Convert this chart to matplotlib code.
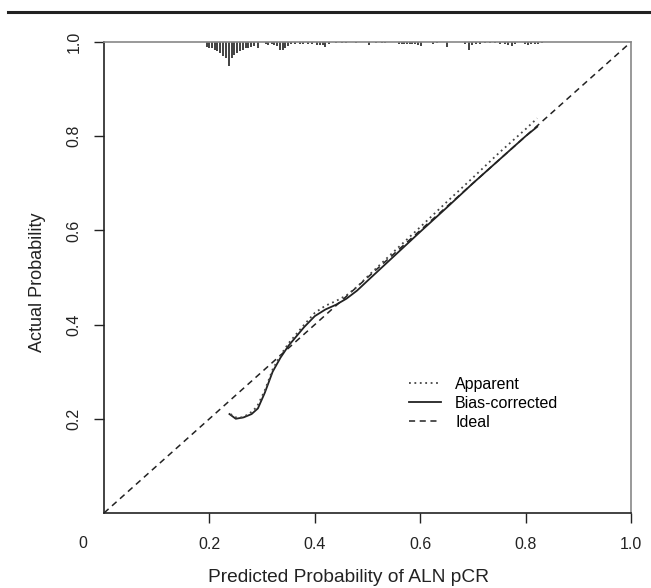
import matplotlib
matplotlib.use("Agg")
import matplotlib.pyplot as plt
from matplotlib.lines import Line2D
import numpy as np

plt.rcParams['font.family'] = ['Liberation Sans', 'DejaVu Sans']

# Calibration curves (predicted, actual)
apparent_x = [0.240, 0.250, 0.262, 0.275, 0.290, 0.305, 0.320, 0.335, 0.350, 0.365, 0.380, 0.400,
              0.420, 0.440, 0.460, 0.480, 0.500, 0.550, 0.600, 0.650, 0.700, 0.750, 0.800, 0.822]
apparent_y = [0.210, 0.203, 0.203, 0.210, 0.225, 0.260, 0.305, 0.335, 0.360, 0.380, 0.400, 0.425,
              0.440, 0.450, 0.462, 0.480, 0.502, 0.555, 0.607, 0.660, 0.712, 0.765, 0.815, 0.838]
bias_x = [0.238, 0.250, 0.265, 0.280, 0.292, 0.305, 0.320, 0.335, 0.350, 0.365, 0.380, 0.400,
          0.420, 0.440, 0.460, 0.480, 0.500, 0.550, 0.600, 0.650, 0.700, 0.750, 0.800, 0.822]
bias_y = [0.210, 0.200, 0.203, 0.210, 0.222, 0.255, 0.300, 0.330, 0.355, 0.375, 0.395, 0.418,
          0.432, 0.442, 0.455, 0.472, 0.493, 0.545, 0.597, 0.648, 0.700, 0.750, 0.800, 0.820]

# Distribution of predicted probabilities (rug at top): positions and relative counts
rug_x = [0.195, 0.200, 0.205, 0.210, 0.215, 0.221, 0.226, 0.232, 0.237, 0.242, 0.247, 0.253,
         0.258, 0.264, 0.269, 0.274, 0.279, 0.285, 0.293, 0.307, 0.312, 0.318, 0.323, 0.328,
         0.334, 0.339, 0.344, 0.349, 0.355, 0.362, 0.371, 0.378, 0.388, 0.394, 0.405, 0.410,
         0.415, 0.420, 0.426, 0.441, 0.451, 0.460, 0.479, 0.503, 0.517, 0.527, 0.533, 0.559,
         0.565, 0.570, 0.575, 0.580, 0.585, 0.590, 0.596, 0.602, 0.624, 0.631, 0.650, 0.685,
         0.693, 0.699, 0.706, 0.713, 0.723, 0.732, 0.742, 0.751, 0.761, 0.767, 0.774, 0.779,
         0.799, 0.805, 0.811, 0.817, 0.823, 0.831]
rug_n = [15, 18, 20, 25, 28, 35, 45, 50, 75, 50, 40, 35,
         30, 25, 20, 18, 15, 12, 20, 8, 10, 8, 10, 12,
         25, 25, 20, 12, 8, 6, 6, 5, 5, 5, 10, 10,
         10, 15, 8, 4, 4, 3, 3, 10, 3, 3, 3, 8,
         8, 8, 8, 8, 8, 8, 10, 12, 5, 4, 15, 5,
         25, 10, 8, 6, 4, 4, 4, 6, 8, 10, 12, 8,
         8, 10, 8, 6, 5, 4]
rug_max_height = 0.05

xticks = [0.2, 0.4, 0.6, 0.8, 1.0]
xticklabels = ["0.2", "0.4", "0.6", "0.8", "1.0"]
yticks = [0.2, 0.4, 0.6, 0.8, 1.0]
yticklabels = ["0.2", "0.4", "0.6", "0.8", "1.0"]

fig = plt.figure(figsize=(6.51, 5.88), dpi=100)
ax = fig.add_axes([0.1598, 0.1276, 0.8095, 0.8010])
ax.set_xlim(0, 1)
ax.set_ylim(0, 1)

c = '#222222'
ax.plot([0, 1], [0, 1], ls=(0, (4, 3)), color=c, lw=1.1, label='Ideal', zorder=2)
ax.plot(bias_x, bias_y, ls='-', color=c, lw=1.3, label='Bias-corrected', zorder=3)
ax.plot(apparent_x, apparent_y, ls=(0, (1, 2)), color='#444444', lw=1.3, label='Apparent', zorder=4)

heights = np.array(rug_n) / max(rug_n) * rug_max_height
ax.vlines(rug_x, 1 - heights, 1, color='#333333', lw=1.3, zorder=2)

handles, labels = ax.get_legend_handles_labels()
order = [2, 1, 0]
leg = ax.legend([handles[i] for i in order], [labels[i] for i in order],
                loc='upper left', bbox_to_anchor=(0.551, 0.32), frameon=False,
                fontsize=11.5, handlelength=2.0, handletextpad=0.9, labelspacing=0.25)

ax.set_xticks(xticks)
ax.set_xticklabels(xticklabels)
ax.set_yticks(yticks)
ax.set_yticklabels(yticklabels, rotation=90, va='center')
ax.tick_params(axis='both', direction='out', length=7, width=1.0, colors='#222222',
               labelsize=11.5)
ax.tick_params(axis='x', pad=10)
ax.tick_params(axis='y', pad=9)
ax.text(-0.04, -0.064, "0", transform=ax.transData, ha='center', va='center', fontsize=11.5,
        color='#222222')

for side in ['left', 'bottom']:
    ax.spines[side].set_color('#222222')
    ax.spines[side].set_linewidth(1.2)
for side in ['top', 'right']:
    ax.spines[side].set_color('#888888')
    ax.spines[side].set_linewidth(1.2)

ax.set_xlabel("Predicted Probability of ALN pCR", fontsize=13.8, color='#222222')
ax.xaxis.set_label_coords(0.463, -0.136)
ax.xaxis.label.set_va('center')
ax.set_ylabel("Actual Probability", fontsize=13, color='#222222')
ax.yaxis.set_label_coords(-0.127, 0.489)
ax.yaxis.label.set_va('center')

fig.add_artist(Line2D([0.012, 1.0], [0.979, 0.979], transform=fig.transFigure,
                      color='#222222', lw=2.2))

fig.savefig("out.png", dpi=100)
